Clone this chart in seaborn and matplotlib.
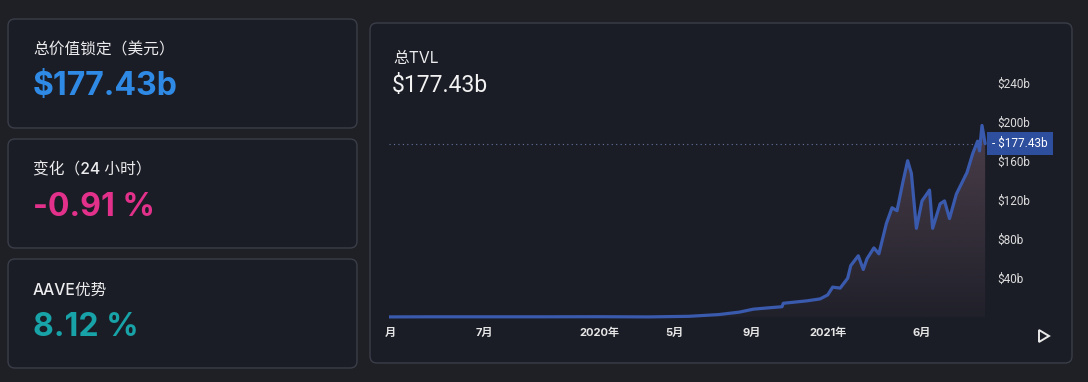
import numpy as np
import pandas as pd
import matplotlib
matplotlib.use("Agg")
import matplotlib.pyplot as plt
import matplotlib.dates as mdates
import matplotlib.transforms as mtransforms
from matplotlib.patches import FancyBboxPatch, Polygon
import seaborn as sns

# TVL series (billions USD)
dates = [
    "2019-01-30", "2019-04-01", "2019-07-01", "2019-10-01", "2020-01-01",
    "2020-03-21", "2020-05-24", "2020-07-11", "2020-08-13", "2020-09-04",
    "2020-10-01", "2020-10-20", "2020-10-22", "2020-11-29", "2020-12-20",
    "2021-01-01", "2021-01-09", "2021-01-21", "2021-02-02", "2021-02-07",
    "2021-02-19", "2021-02-27", "2021-03-05", "2021-03-16", "2021-03-24",
    "2021-04-05", "2021-04-14", "2021-04-22", "2021-05-01", "2021-05-09",
    "2021-05-15", "2021-05-23", "2021-06-01", "2021-06-13", "2021-06-18",
    "2021-06-30", "2021-07-07", "2021-07-15", "2021-07-26", "2021-08-12",
    "2021-08-21", "2021-08-29", "2021-09-01", "2021-09-05", "2021-09-10",
]
tvl_b = [
    0.6, 0.7, 0.7, 0.7, 0.8,
    0.6, 1.2, 3.0, 5.5, 8.5,
    10, 11, 14.5, 17, 19,
    23, 31, 30, 40, 53,
    63, 49, 60, 71, 65,
    96, 112, 109, 137, 160,
    147, 91, 119, 130, 91,
    116, 119, 101, 126, 148,
    167, 180, 170, 196, 177.43,
]
current_tvl = 177.43

tick_dates = ["2019-02-01", "2019-07-01", "2020-01-01", "2020-05-01",
              "2020-09-01", "2021-01-01", "2021-06-01"]
tick_labels = ["月", "7月", "2020年", "5月", "9月", "2021年", "6月"]
y_ticks = [40, 80, 120, 160, 200, 240]
y_labels = ["\\$40b", "\\$80b", "\\$120b", "\\$160b", "\\$200b", "\\$240b"]

card_titles = ["总价值锁定（美元）", "变化（24 小时）", "AAVE优势"]
card_values = ["\\$177.43b", "-0.91 %", "8.12 %"]
card_colors = ["#2f8ae6", "#e3318b", "#17a3a8"]

# view window of the chart
x_start, x_end = "2019-01-30", "2021-09-21"

sns.set_theme(style="dark")
plt.rcParams["font.family"] = ["Inter", "Noto Sans CJK SC", "DejaVu Sans"]

PAGE_BG = "#1e2026"
CARD_BG = "#1b1d26"
CARD_EDGE = "#3b3e48"
TEXT = "#ececee"

W, H = 1088, 382
fig = plt.figure(figsize=(W / 100, H / 100), dpi=100)
fig.patch.set_facecolor(PAGE_BG)

# background layer in pixel coordinates
bg = fig.add_axes([0, 0, 1, 1], zorder=0)
bg.set_xlim(0, W)
bg.set_ylim(H, 0)
bg.axis("off")

def card(x0, y0, x1, y1):
    bg.add_patch(FancyBboxPatch((x0, y0), x1 - x0, y1 - y0,
                                boxstyle="round,pad=0,rounding_size=7",
                                fc=CARD_BG, ec=CARD_EDGE, lw=1))

for i, (title, value, col) in enumerate(zip(card_titles, card_values, card_colors)):
    top = 19 + i * 120
    card(8, top, 357, top + 109)
    bg.text(33, top + 31, title, color=TEXT, fontsize=11.3, fontweight="medium",
            va="center", ha="left")
    bg.text(33, top + 68, value, color=col, fontsize=23, fontweight="bold",
            va="center", ha="left")

# chart panel
card(370, 23, 1072, 363)
bg.text(393, 59, "总TVL", color=TEXT, fontsize=11.3, va="center", ha="left")
bg.text(392, 86, "\\$177.43b", color="#f2f2f2", fontsize=16.5, va="center", ha="left",
        family=["Roboto", "DejaVu Sans"])
bg.add_patch(Polygon([(1039, 330), (1039, 342), (1049, 336)], closed=True,
                     fill=False, ec="#e8e8e8", lw=1.4))

# chart axes
ax_l, ax_r, ax_t, ax_b = 389, 992, 60, 322
ax = fig.add_axes([ax_l / W, (H - ax_b) / H, (ax_r - ax_l) / W, (ax_b - ax_t) / H], zorder=1)
ax.set_facecolor("none")

df = pd.DataFrame({"date": pd.to_datetime(dates), "tvl": tvl_b})

# gradient fill under the curve
xnum = mdates.date2num(df["date"])
fill = ax.fill_between(df["date"], 0, df["tvl"], color="none", lw=0)
grad = np.linspace(0, 1, 256).reshape(-1, 1)
rgba = np.zeros((256, 1, 4))
rgba[..., 0] = 98 / 255
rgba[..., 1] = 78 / 255
rgba[..., 2] = 92 / 255
rgba[..., 3] = 0.08 + 0.6 * grad
img = ax.imshow(rgba, extent=[xnum[0], xnum[-1], 0, max(tvl_b)], origin="lower",
                aspect="auto", zorder=1)
img.set_clip_path(fill.get_paths()[0], transform=ax.transData)

sns.lineplot(data=df, x="date", y="tvl", ax=ax, color="#3a5aad", lw=2.3, zorder=3)

ax.plot([df["date"].iloc[0], df["date"].iloc[-1]], [current_tvl, current_tvl],
        color="#6473a0", lw=0.8, dashes=(1, 3), zorder=2)

ax.set_xlim(pd.Timestamp(x_start), pd.Timestamp(x_end))
ax.set_ylim(-4.6, 262.8)
ax.set_xlabel("")
ax.set_ylabel("")
ax.grid(False)
for s in ax.spines.values():
    s.set_visible(False)

ax.set_xticks(pd.to_datetime(tick_dates))
ax.set_xticklabels(tick_labels)
ax.tick_params(axis="x", length=0, pad=4, labelsize=8, labelcolor="#e6e6e6")
for t in ax.get_xticklabels():
    t.set_fontweight("bold")

ax.yaxis.tick_right()
ax.set_yticks(y_ticks)
ax.set_yticklabels(y_labels)
ax.tick_params(axis="y", length=0, pad=4, labelsize=8.5, labelcolor="#dcdcdc")
for t in ax.get_yticklabels():
    t.set_family(["Roboto", "DejaVu Sans"])

# current value tag on the price scale
trans = mtransforms.blended_transform_factory(ax.transAxes, ax.transData)
ax.text(1.0, current_tvl, "- \\$177.43b", transform=trans, ha="left", va="center",
        fontsize=8.5, color="white", family=["Roboto", "DejaVu Sans"], clip_on=False,
        bbox=dict(boxstyle="square,pad=0.45", fc="#2e4e9e", ec="none"), zorder=5)

fig.savefig("out.png", dpi=100, facecolor=fig.get_facecolor())
